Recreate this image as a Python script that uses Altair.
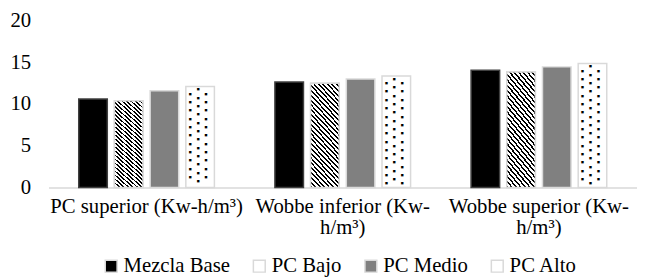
import altair as alt
import pandas as pd

categories = ["PC superior (Kw-h/m³)", "Wobbe inferior (Kw-h/m³)", "Wobbe superior (Kw-h/m³)"]
series = ["Mezcla Base", "PC Bajo", "PC Medio", "PC Alto"]
mezcla_base = [10.6, 12.65, 14.05]
pc_bajo = [10.4, 12.5, 13.85]
pc_medio = [11.6, 13.0, 14.45]
pc_alto = [12.1, 13.35, 14.85]
y_ticks = [0, 5, 10, 15, 20]

values = {"Mezcla Base": mezcla_base, "PC Bajo": pc_bajo, "PC Medio": pc_medio, "PC Alto": pc_alto}
df = pd.DataFrame([
    {"cat": c, "series": s, "value": values[s][i]}
    for s in series for i, c in enumerate(categories)
])

# dot pattern rows for "PC Alto" bars, derived from each bar's value
dot_rows = []
for i, c in enumerate(categories):
    v = pc_alto[i]
    y = v - 0.35
    j = 0
    while y > 0.25:
        if j % 2 == 0:
            dot_rows.append({"cat": c, "series": "PC Alto", "y": y, "pos": "mid"})
        else:
            dot_rows.append({"cat": c, "series": "PC Alto", "y": y, "pos": "left"})
            dot_rows.append({"cat": c, "series": "PC Alto", "y": y, "pos": "right"})
        j += 1
        y -= 0.5
dots = pd.DataFrame(dot_rows)

FONT = "Liberation Serif"
FS = 21

def stripes(n, dark=0.42):
    stops = []
    for i in range(n):
        stops.append({"offset": i / n, "color": "#000000"})
        stops.append({"offset": (i + dark) / n, "color": "#000000"})
        stops.append({"offset": (i + dark) / n, "color": "#ffffff"})
        stops.append({"offset": (i + 1) / n, "color": "#ffffff"})
    return stops

bar_grad = {"gradient": "linear", "x1": 0, "y1": 1, "x2": 0.352, "y2": -0.191, "stops": stripes(28)}

x_enc = alt.X("cat:N", sort=categories, title=None,
              scale=alt.Scale(paddingInner=0.272, paddingOuter=0.136),
              axis=alt.Axis(labelFont=FONT, labelFontSize=FS, labelColor="#000000",
                            labelAngle=0, labelPadding=8, labelLineHeight=22,
                            ticks=False, domainColor="#d9d9d9", domainWidth=1.5,
                            labelLimit=300,
                            labelExpr="length(datum.label) > 22 ? [slice(datum.label, 0, indexof(datum.label, 'Kw-') + 3), slice(datum.label, indexof(datum.label, 'Kw-') + 3)] : datum.label"))
xo_enc = alt.XOffset("series:N", sort=series, scale=alt.Scale(domain=series, paddingInner=0.2, paddingOuter=0.1))
y_axis = alt.Axis(values=y_ticks, grid=False, domain=False, ticks=False,
                  labelFont=FONT, labelFontSize=FS, labelColor="#000000", labelPadding=18)
y_enc = alt.Y("value:Q", title=None, scale=alt.Scale(domain=[0, 20], nice=False), axis=y_axis)

base = alt.Chart(df).mark_bar(strokeWidth=1.5).encode(
    x=x_enc, xOffset=xo_enc, y=y_enc,
    color=alt.Color("series:N", sort=series, title=None,
                    scale=alt.Scale(domain=series, range=["#000000", "#ffffff", "#808080", "#ffffff"]),
                    legend=alt.Legend(orient="none", direction="horizontal", legendX=53, legendY=238,
                                      labelFont=FONT, labelFontSize=FS, labelColor="#000000",
                                      symbolType="square", symbolSize=144, symbolStrokeColor="#d9d9d9",
                                      symbolStrokeWidth=1.5, labelOffset=2, columnPadding=19,
                                      symbolOpacity=1)),
    stroke=alt.condition(alt.datum.series == "Mezcla Base", alt.value("#404040"), alt.value("#d9d9d9")),
)

hatch = alt.Chart(df).transform_filter(alt.datum.series == "PC Bajo").mark_bar(
    fill=bar_grad, stroke="#d9d9d9", strokeWidth=1.5
).encode(x=x_enc, xOffset=xo_enc, y=y_enc)

def dot_layer(pos, dx):
    return alt.Chart(dots).transform_filter(alt.datum.pos == pos).mark_text(
        text="■", font="DejaVu Sans", fontSize=3.2, color="#000000", dx=dx, baseline="middle"
    ).encode(x=x_enc, xOffset=xo_enc, y=alt.Y("y:Q", title=None, scale=alt.Scale(domain=[0, 20], nice=False), axis=y_axis))

chart = alt.layer(base, hatch, dot_layer("mid", -2), dot_layer("left", -10), dot_layer("right", 6)).properties(
    width=596, height=169,
    padding={"left": 41, "top": 11, "right": 0, "bottom": 92},
    autosize=alt.AutoSizeParams(type="none"),
).configure(font=FONT).configure_view(stroke=None).configure_axis(
    labelFont=FONT
).configure_legend(labelFont=FONT, labelFontSize=FS)

chart.save("out.html", embed_options={"renderer": "svg", "actions": False})
